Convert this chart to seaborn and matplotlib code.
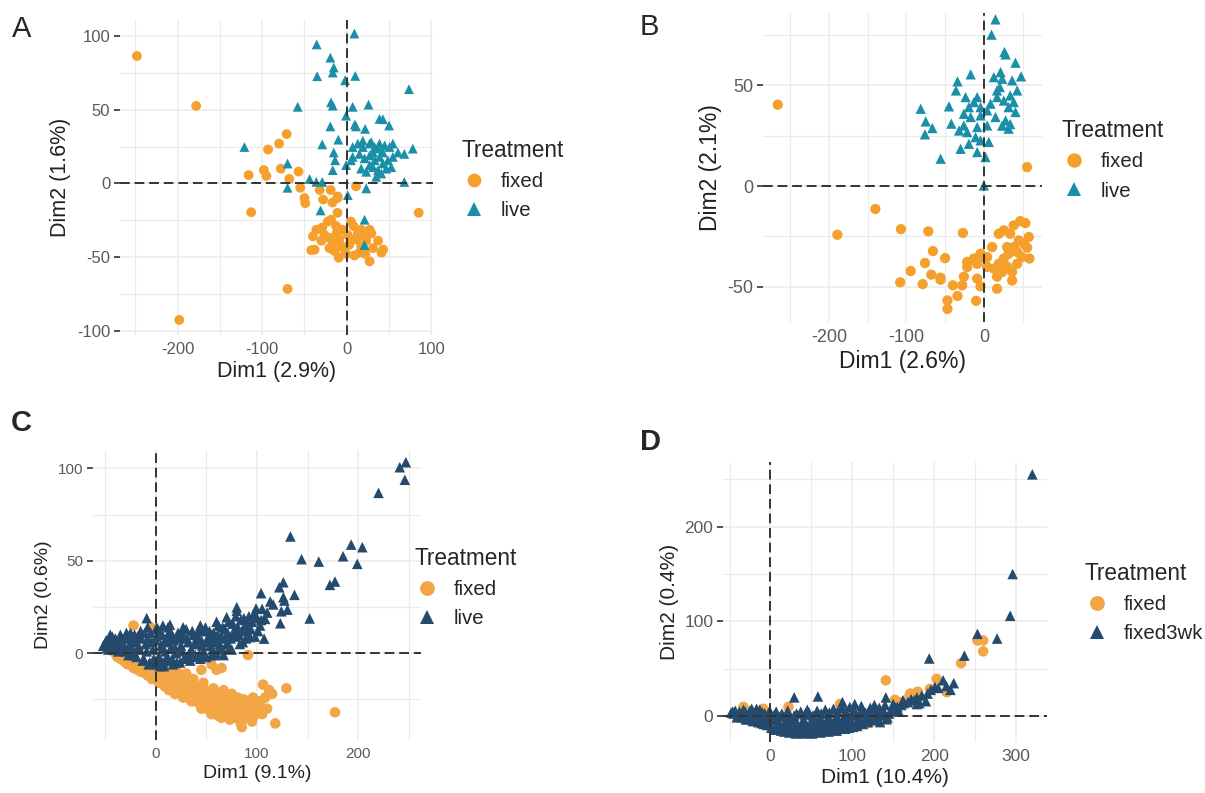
import pandas as pd
import matplotlib.pyplot as plt
import seaborn as sns

sns.set_style('white')
plt.rcParams['font.family'] = ['Liberation Sans', 'DejaVu Sans']
plt.rcParams['axes.unicode_minus'] = False

# warna
orange = '#F5A02C'
orange_soft = '#F2A646'
teal = '#1A8FA8'
navy = '#244A6E'

# ---- Panel A: PCA, fixed vs live ----
a_fixed_x = [-248, -178, -198, -70, -113, 85, -116, -98, -95, -93, -80, -71, -78, -68, -57, -55,
             -50, -49, -32, -28, -19, -17, -11, -11, 11, -10.7, -22.5, -18.6, -29, -12.6, -40, -36,
             -30, -26.5, -20.5, -16.6, -12, -8.7, -6.7, -2.8, -0.8, -9.5, -38, -42, 5, 8, 13, 17,
             20, 23, 25, 27, 9, 15, 22, 27, 37, 41, 43, 3, 7, 1, -4.7, 11, 17, 29, 31, -20.5, -14.6]
a_fixed_y = [86.5, 52.6, -92.8, -71.7, -19.6, -20, 5.6, 9, 5, 23, 27, 33.5, 10, 3, 8, -3,
             -10, -13.5, -4.5, -11, -4.5, -13, -10, -20, -2, -8.9, -26, -24.7, -30, -29, -36, -31.5,
             -39, -35, -37, -40, -33.7, -38, -42.7, -45, -48, -50.5, -45, -45.4, -26, -29, -34, -31.5,
             -36, -39, -32.6, -31.5, -49, -47, -48, -53, -39, -47, -45, -41.6, -38, -35, -31.5, -38, -42.7, -34, -44, -44, -46]
a_live_x = [9, -35.6, -19.4, -15.4, -16.6, -35, 10, -2, 73.5, -58, -18.6, -16.6, 7, 25.7, -0.8, 9.5,
            11, 21.7, 38.7, 42.7, 50, -19.4, -10, -29, -121, -15.4, -13.8, -16.6, -70, -44, -36, -29,
            -70, 1.2, 23, -31, 21, 21, 68, 78, 68, 7, 13, 19, 27, 33, 38.7, 44.7, 50.6, 54.5, 60.5,
            7, 15, 21, 27, 33, 38.7, 42.7, 48.6, 54.5, 31, 36.8, 40.7, 34.8, 23, 27, 46.6, 52.6, 17,
            -0.8, 5, 31, 42.7, 36.8, 19, 28.9]
a_live_y = [101.8, 94.4, 85.4, 78.7, 75.3, 72.8, 73, 70, 64, 52, 55, 52.8, 52, 53.5, 46, 40,
            38.7, 37, 43.8, 43.6, 39.3, 38.7, 29.7, 26.5, 24.7, 21, 15.7, 9, 13.5, 3, 1, 1,
            -3, -8, -3.4, -18.4, -24.7, -42, 1, 23.6, 20, 24.7, 27, 24.7, 27, 24.7, 27, 25.8, 24.7, 27, 21,
            18, 20, 17, 19, 15.7, 18, 13.5, 15.7, 18, 11, 9, 6.7, 4.5, 7.9, 12.4, 10, 11, 10,
            12.4, 15.7, 21, 21, 23.6, 29, 28]

# ---- Panel B ----
b_fixed_x = [-266, 55.8, -140, -189, -107, -71.7, -27, -65.7, -76, -50, -94.4, -67.8, -56, -56, -108, -79,
             -40, -34, -47, -47, -10, -28, -25.8, -8.6, -4.3, -21.5, -8.6, 4.3, 10.7, 19.3, 25.8, 38.6,
             47, 53.6, 58, 55.8, 58.8, 45, 38.6, 32, 25.8, 19.3, 12.9, 17, 17, 36.5, 36.5, 43, 49, 30,
             23.6, 4.3, 0, -4.3, -12.9, -21.5, 30, 43, 34, 51.5]
b_fixed_y = [40.4, 9.4, -11.4, -24.2, -21.4, -22.5, -23.3, -32.3, -38.2, -35.8, -42.2, -44, -45.5, -46.5, -47.8, -48.7,
             -49.3, -54.6, -56.8, -61, -57, -49.3, -45, -46, -49.8, -37.7, -38.6, -35.3, -30.3, -23.7, -22, -19.5,
             -17.4, -18.4, -25.3, -30.6, -36, -27, -30.3, -33.6, -36, -38.6, -41, -45, -51, -46.9, -42.7, -38.6, -35.3, -40,
             -42.7, -40.2, -35.3, -33.6, -36, -40.2, -30.3, -32.8, -23.7, -28.6]
b_live_x = [15, 9.9, 26.6, 28, 40.8, 48, 12.9, 23.6, 36.5, -17, -34, 20.6, 43, 34, 25.8, 17,
            8.6, 38.6, 32, -36, -45, -23.6, -8.6, -12.9, -19.3, -4.3, 4.3, -81.5, -75, -66.5, -76, -55.8,
            -42, -25.8, -17, -4.3, -25.8, -32, -21.5, -8.6, 4.3, -10.7, 6.4, -30, -8.6, 2.1, 0, 28,
            32, 34, 23.6, 40.8, -19.3, -4.3, 15, 17, 21.5]
b_live_y = [82.8, 75.2, 66.6, 65.4, 61.3, 54.5, 54.1, 53.3, 52.5, 55.5, 52, 49.2, 47.5, 45, 42.5, 44.2,
            40.9, 41.7, 39.2, 47.5, 39.6, 44.2, 44.2, 41.7, 39.2, 39.2, 37.6, 38.4, 32.1, 28.8, 25.7, 13.6,
            31, 35.9, 34.3, 35.1, 30.1, 27.6, 26.8, 29.3, 30.1, 24.3, 21.9, 18.5, 16.9, 14.4, 0.3, 32.6,
            28.5, 30.8, 30, 36.8, 21, 22.7, 34.3, 47.5, 56.6]

# ---- Panel C ----
c_fixed_x = [-48, -45, -40, -38, -35, -32, -30, -28, -25, -22, -20, -18, -15, -12, -10, -8, -5, -3, 0, 2,
             4, 6, 8, 10, 12, 14, 16, 18, 20, 22, 24, 26, 28, 30, 32, 34, 36, 38, 40, 42,
             44, 46, 48, 50, 52, 54, 56, 58, 60, 62, 64, 66, 68, 70, 72, 74, 76, 78, 80, 82,
             84, 86, 88, 90, 92, 94, 96, 98, 100, 105, 108, 115, 118, 129, 177, 85, 95, 60, 65, 55,
             91, 45, 30, 15, -22, -5, 106, 101,
             -42, -36, -33, -26, -23, -19, -16, -13, -7, -4, -1, 1, 3, 5, 7, 9, 11, 13, 15, 17,
             19, 21, 23, 25, 27, 29, 31, 33, 35, 37, 39, 41, 43, 45, 47, 49, 51, 53, 55, 57,
             59, 61, 63, 65, 67, 69, 71, 73, 75, 77, 79, 81, 83, 87, 89, 93, 97, 103, 110, 112]
c_fixed_y = [5, 2, 0, -2, -3, -4, -5, -6, -6, -8, -7, -9, -10, -9, -11, -12, -12, -10, -13, -8,
             -14, -12, -16, -10, -15, -18, -13, -17, -20, -12, -18, -22, -15, -20, -24, -17, -22, -26, -19, -24,
             -28, -21, -26, -30, -23, -27, -32, -25, -29, -34, -27, -31, -24, -29, -33, -26, -30, -35, -28, -32,
             -38, -30, -34, -27, -33, -36, -24, -31, -29, -33, -24, -22, -38, -19, -32, -40, -37, -9, -8, -6,
             -1, -9, -11, -5, 15, 14, -17, -29,
             1, -1, -2, -4, -5, -6, -7, -8, -9, -14, -9, -11, -16, -10, -14, -18, -12, -20, -9, -15,
             -22, -10, -15, -20, -24, -12, -17, -22, -26, -14, -18, -22, -26, -30, -16, -20, -24, -28, -33, -19,
             -22, -26, -30, -35, -20, -25, -31, -36, -22, -27, -32, -24, -29, -25, -35, -28, -34, -26, -30, -20]
c_live_x = [247, 241, 246, 220, 133, 144, 161, 185, 193, 204, 199, 172, 177, 126, 122, 137, 126, 127, 104, 130,
            124, 123, 152, 116, 99, 98, 108, 93, 107, 80, 70, -9, 14, 7, 1,
            -50, -48, -46, -45, -44, -42, -40, -38, -36, -35, -33, -30, -28, -26, -25, -22, -20, -18, -16, -15,
            -12, -10, -8, -6, -5, -3, 0, 0, 2, 3, 5, 6, 8, 9, 10, 12, 14, 15, 17, 18,
            20, 22, 24, 25, 27, 29, 30, 32, 34, 35, 37, 39, 40, 42, 44, 45, 47, 49, 50, 52,
            54, 55, 57, 59, 60, 62, 64, 65, 67, 68, 70, 72, 74, 75, 77, 79, 80, 82, 84, 86,
            88, 90, 92, 95, 98, 100, 103, 105, 110, 113,
            -52, -49, -47, -43, -41, -39, -37, -34, -31, -29, -27, -24, -23, -21, -19, -17, -14, -13, -11, -9,
            -7, -4, -2, 1, 1, 4, 4, 7, 7, 11, 11, 13, 16, 16, 19, 21, 23, 26, 26, 28,
            31, 33, 36, 36, 38, 41, 43, 46, 46, 48, 51, 53, 56, 56, 58, 61, 63, 66, 66, 69,
            71, 73, 76, 78, 81, 83, 85, 87, 89, 91, 94, 97, 101, 104, -45, -8, 12, 27, 44, 60]
c_live_y = [103.4, 100.7, 93.9, 86.8, 63.2, 50.9, 49.6, 52.5, 58.8, 57.4, 48.4, 37, 38.8, 38.4, 35.7, 31.6, 30.3, 28.5, 32.5, 23.6,
            22.7, 16.2, 18.8, 26.4, 24.2, 21.3, 18.6, 8.7, 7.9, 24.9, 19.5, 19, 15.5, 15, 14,
            5, 3, 7, 4, 6, 2, 8, 5, 3, 10, 6, 1, 8, 4, 11, -1, 6, 9, 2, 12,
            -3, 5, 8, -5, 11, 2, -6, 7, 13, -2, 4, 10, -7, 1, 8, -4, 12, 3, -6, 7,
            0, 11, -5, 4, 9, -2, 13, 6, -4, 2, 10, -1, 5, 12, -3, 7, 1, 14, -2, 9,
            4, -1, 11, 6, 0, 15, 3, 9, -1, 13, 5, 17, 8, 2, 12, 20, 23, 10, 18, 6,
            15, 12, 20, 17, 9, 19, 15, 24, 22, 28,
            4, 7, 2, 9, 3, 6, 1, 8, 3, 11, -1, 7, 2, 10, -2, 4, 8, -4, 11, 1,
            -6, 6, -3, 9, -4, 12, -7, 3, -5, 6, -2, 9, -3, 10, 3, -5, 8, 1, 11, -3,
            8, 0, 12, -2, 5, 9, -1, 4, 12, -2, 6, 12, 2, 8, -1, 10, 5, 14, 2, 8,
            11, 3, 16, 9, 14, 5, 12, 19, 8, 16, 13, 21, 12, 18, 10, 14, 14, 14, 15, 17]

# ---- Panel D ----
d_fixed_x = [10.6, 141, 233, 253, 260, 260, 203, 215.5, 195, 171, 152, 115, 121, 85, 22, 56,
             -9, -33, 60, 110, 130, 95, 170, 160, 180, 40, 75]
d_fixed_y = [-2.4, 38, 56, 80, 80, 68.5, 39.5, 25.5, 29, 24, 17.5, -6, -7, 13, 10, -13,
             8, 10, -12, -8, -4, -6, 22, 15, 26, -10, -9]
d_live_x = [320, 296, 293, 277, 253, 237, 194, 224, 211, 201, 192, 179, 179, 162, 150, 141, 134, 143, 103, 88,
            58, 29, 45, -17, -31, -46,
            -45, -40, -38, -35, -32, -30, -27, -25, -22, -20, -18, -15, -12, -10, -8, -5, -2, 0, 2, 5,
            8, 10, 12, 15, 18, 20, 22, 25, 28, 30, 32, 35, 38, 40, 42, 45, 48, 50, 52, 55,
            58, 60, 62, 65, 68, 70, 72, 75, 78, 80, 82, 85, 88, 90, 92, 95, 98, 100, 102, 105,
            108, 110, 112, 115, 118, 120, 125, 128, 130, 135, 138, 145, 150, 155, 160, 168, 172, 185, 190, 196,
            205, 215, 220,
            -48, -43, -41, -37, -33, -29, -26, -23, -21, -17, -13, -11, -7, -4, -1, 1, 3, 6, 7, 11,
            13, 14, 17, 19, 21, 23, 24, 27, 29, 31, 33, 36, 37, 39, 41, 43, 46, 47, 49, 51,
            53, 56, 57, 59, 61, 63, 66, 67, 69, 71, 73, 76, 77, 79, 81, 83, 86, 87, 89, 91,
            94, 96, 97, 99, 101, 104, 106, 109, 111, 113, 116, 119, 122, 124, 127, 131, 133, 137, 140, 142,
            147, 152, 157, 163, 176, 182]
d_live_y = [255, 150, 106, 82, 87, 64, 61, 35, 38, 31, 24, 20, 13, 17, 13, 20, -6, -1, 13, 15,
            21, 20, 7, 8, 5, 5,
            3, 1, 5, -1, 4, -3, 2, 6, -4, 1, 5, -6, 0, 4, -8, -3, 3, -9, -4, 2,
            -11, -6, 0, -12, -7, -2, 4, -13, -8, -3, 3, -14, -9, -4, 2, -14, -10, -5, 1, -13,
            -8, -3, 3, -12, -7, -2, 4, -11, -6, -1, 5, -10, -5, 0, 6, -9, -4, 1, 7, -7,
            -2, 3, 8, -5, 0, 5, -3, 2, 7, 1, 6, 3, 8, 10, 12, 15, 18, 22, 16, 28,
            30, 32, 28,
            4, 6, -1, 2, 7, -3, 4, 8, -5, 2, 7, -7, 3, -9, 6, -12, -2, -14, 5, -10,
            -15, 3, -16, -11, 6, -17, -5, -15, 1, -18, -11, -17, 5, -13, -18, -7, -17, 4, -12, -18,
            -6, -16, 6, -11, -17, -5, -15, 7, -10, -16, -4, -14, 8, -9, -15, -3, -13, 9, -8, -13,
            -2, -12, 10, -7, -11, 2, -10, -5, 11, -8, 4, -6, 9, -4, 12, -2, 9, 3, 12, -3,
            6, 10, 5, 14, 17, 14]


def make_df(fx, fy, lx, ly, other):
    fixed = pd.DataFrame({'Dim1': fx, 'Dim2': fy, 'Treatment': 'fixed'})
    live = pd.DataFrame({'Dim1': lx, 'Dim2': ly, 'Treatment': other})
    return pd.concat([fixed, live], ignore_index=True)


panels = [
    dict(df=make_df(a_fixed_x, a_fixed_y, a_live_x, a_live_y, 'live'), other='live',
         colors=(orange, teal), pos=[0.0996, 0.5776, 0.2598, 0.3972],
         xlim=(-268, 102), ylim=(-103, 111),
         xt=[-200, -100, 0, 100], xm=[-250, -150, -50, 50],
         yt=[-100, -50, 0, 50, 100], ym=[-75, -25, 25, 75],
         xl='Dim1 (2.9%)', yl='Dim2 (1.6%)', leg=(0.368, 0.848),
         tsize=12, lsize=15.5, ms=50,
         letter='A', lpos=(0.010, 0.963), bold=False),
    dict(df=make_df(b_fixed_x, b_fixed_y, b_live_x, b_live_y, 'live'), other='live',
         colors=(orange, teal), pos=[0.6332, 0.5940, 0.2315, 0.3897],
         xlim=(-285, 75), ylim=(-67.5, 86),
         xt=[-200, -100, 0], xm=[-250, -150, -50, 50],
         yt=[-50, 0, 50], ym=[-25, 25, 75],
         xl='Dim1 (2.6%)', yl='Dim2 (2.1%)', leg=(0.866, 0.873),
         tsize=13, lsize=16.5, ms=55,
         letter='B', lpos=(0.531, 0.966), bold=False),
    dict(df=make_df(c_fixed_x, c_fixed_y, c_live_x, c_live_y, 'live'), other='live',
         colors=(orange_soft, navy), pos=[0.0772, 0.0668, 0.2722, 0.3657],
         xlim=(-62, 262), ylim=(-47, 110),
         xt=[0, 100, 200], xm=[-50, 50, 150, 250],
         yt=[0, 50, 100], ym=[-25, 25, 75],
         xl='Dim1 (9.1%)', yl='Dim2 (0.6%)', leg=(0.329, 0.334),
         tsize=11, lsize=14, ms=58,
         letter='C', lpos=(0.009, 0.466), bold=True),
    dict(df=make_df(d_fixed_x, d_fixed_y, d_live_x, d_live_y, 'fixed3wk'), other='fixed3wk',
         colors=(orange_soft, navy), pos=[0.6000, 0.0643, 0.2689, 0.3531],
         xlim=(-58, 338), ylim=(-27, 268),
         xt=[0, 100, 200, 300], xm=[-50, 50, 150, 250],
         yt=[0, 100, 200], ym=[50, 150, 250],
         xl='Dim1 (10.4%)', yl='Dim2 (0.4%)', leg=(0.885, 0.315),
         tsize=12.5, lsize=15, ms=58,
         letter='D', lpos=(0.531, 0.443), bold=True),
]

fig = plt.figure(figsize=(12.05, 7.93), dpi=100)

for p in panels:
    ax = fig.add_axes(p['pos'])
    ax.set_axisbelow(True)
    sns.scatterplot(data=p['df'], x='Dim1', y='Dim2', hue='Treatment', style='Treatment',
                    hue_order=['fixed', p['other']],
                    palette={'fixed': p['colors'][0], p['other']: p['colors'][1]},
                    markers={'fixed': 'o', p['other']: '^'},
                    s=p['ms'], linewidth=0, ax=ax, zorder=3)
    ax.axhline(0, color='#333333', lw=1.4, ls=(0, (5, 2.5)), zorder=4)
    ax.axvline(0, color='#333333', lw=1.4, ls=(0, (5, 2.5)), zorder=4)

    ax.set_xlim(p['xlim'])
    ax.set_ylim(p['ylim'])
    ax.set_xticks(p['xt'])
    ax.set_xticks(p['xm'], minor=True)
    ax.set_yticks(p['yt'])
    ax.set_yticks(p['ym'], minor=True)
    ax.grid(True, which='major', color='#EBEBEB', lw=1.1)
    ax.grid(True, which='minor', color='#EBEBEB', lw=0.8)
    for s in ax.spines.values():
        s.set_visible(False)
    ax.tick_params(axis='both', which='major', labelsize=p['tsize'], labelcolor='#5A5A5A')
    ax.tick_params(axis='x', which='both', length=0, pad=5)
    ax.tick_params(axis='y', which='major', length=4, width=1.2, color='#333333', pad=3, left=True)
    ax.tick_params(axis='y', which='minor', length=0)
    ax.set_xlabel(p['xl'], fontsize=p['lsize'], color='#222222', labelpad=3)
    ax.set_ylabel(p['yl'], fontsize=p['lsize'], color='#222222', labelpad=4)

    sns.move_legend(ax, 'upper left', bbox_to_anchor=p['leg'], bbox_transform=fig.transFigure,
                    frameon=False, title='Treatment', fontsize=14.7, title_fontsize=16.3,
                    markerscale=1.4, labelspacing=0.5, handlelength=1.2, handletextpad=0.7)
    leg = ax.get_legend()
    leg._legend_box.align = 'left'

    fig.text(p['lpos'][0], p['lpos'][1], p['letter'], fontsize=21,
             fontweight='bold' if p['bold'] else 'normal', va='center', ha='left')

fig.savefig('out.png', dpi=100, facecolor='white')
